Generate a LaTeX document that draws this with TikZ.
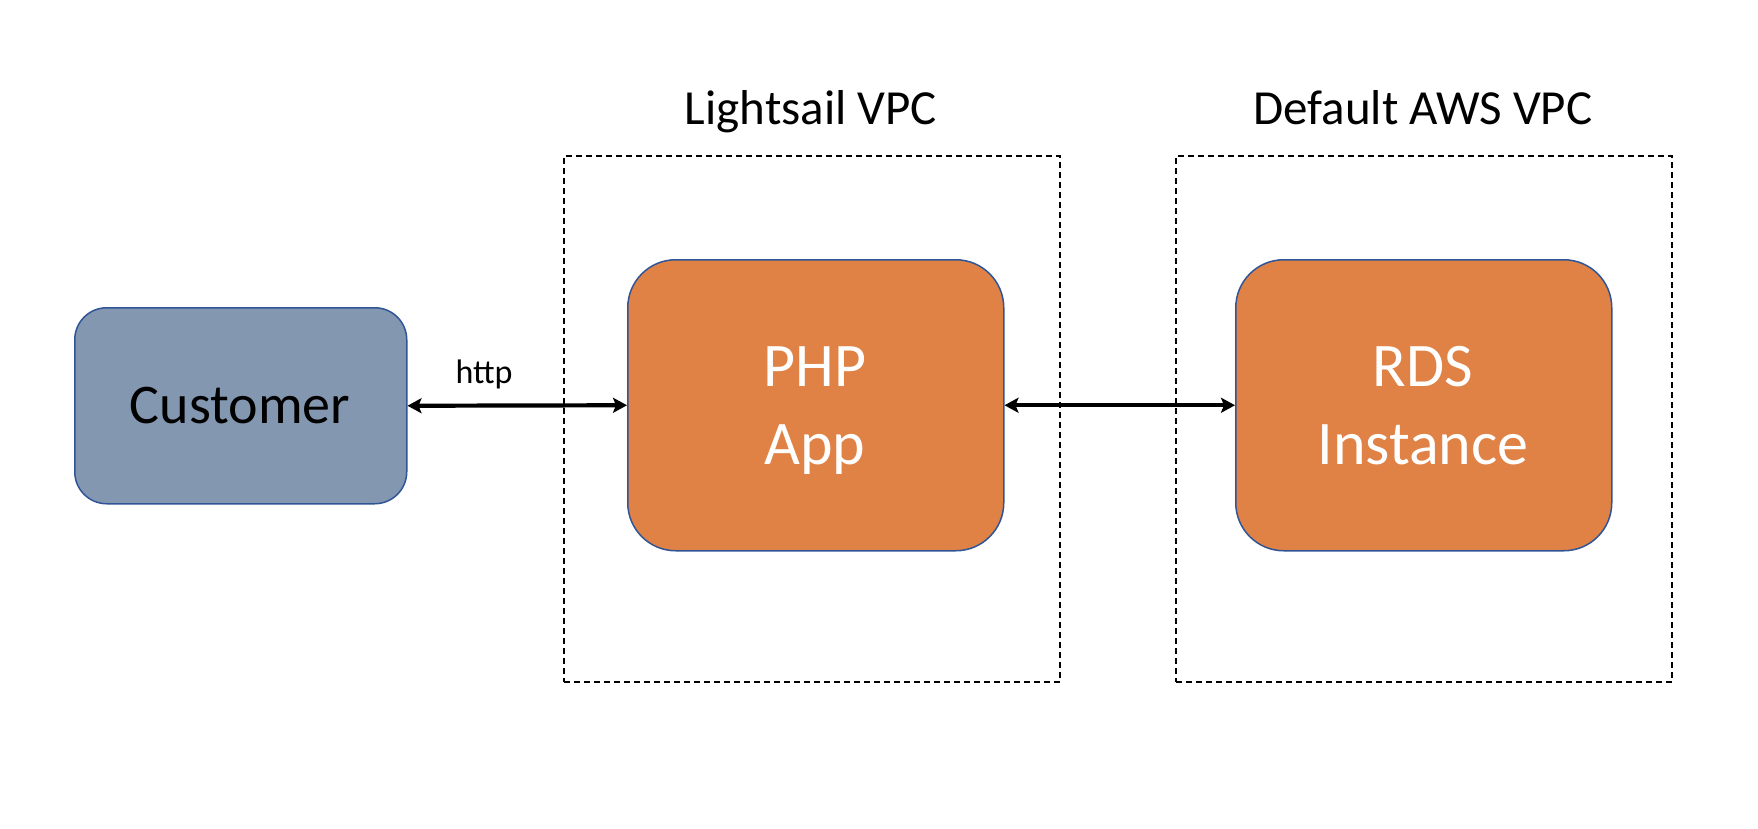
\documentclass[tikz,border=0pt]{standalone}
\usepackage{fontspec}
\setmainfont{Carlito}
\usetikzlibrary{arrows.meta}
\definecolor{custfill}{HTML}{8497B0}
\definecolor{appfill}{HTML}{E08245}
\definecolor{boxedge}{HTML}{2F5597}
\begin{document}
\begin{tikzpicture}[x=1pt,y=-1pt,
  vpc/.style={draw=black, line width=2pt, dash pattern=on 6pt off 4pt, inner sep=0pt, anchor=north west, minimum width=496pt, minimum height=526pt},
  custbox/.style={draw=boxedge, line width=1.5pt, fill=custfill, rounded corners=32pt, inner sep=0pt, anchor=north west, minimum width=332pt, minimum height=196pt},
  appbox/.style={draw=boxedge, line width=1.5pt, fill=appfill, rounded corners=48pt, inner sep=0pt, anchor=north west, minimum width=376pt, minimum height=291pt},
  title/.style={font=\fontsize{49}{59}\selectfont, anchor=base, inner sep=0pt},
  inbox/.style={font=\fontsize{62}{75}\selectfont, text=white, anchor=base, inner sep=0pt},
  link/.style={line width=4.2pt, {Stealth[length=14pt,width=15pt,inset=3pt]}-{Stealth[length=14pt,width=15pt,inset=3pt]}}]
\useasboundingbox (0,0) rectangle (1758,828);
\fill[white] (0,0) rectangle (1758,828);
% VPC containers
\node[vpc] (lvpc) at (563,155) {};
\node[vpc] (dvpc) at (1175,155) {};
\node[title] (ltitle) at (811,124) {Lightsail VPC};
\node[title] (dtitle) at (1423,124) {Default AWS VPC};
% boxes
\node[custbox] (cust) at (74,307) {};
\node[appbox] (php) at (627,259) {};
\node[appbox] (rds) at (1235,259) {};
% texts
\node[font=\fontsize{56}{67}\selectfont, anchor=base, inner sep=0pt] (custtext) at (240,423) {Customer};
\node[inbox] (phpa) at (815,386) {PHP};
\node[inbox] (phpb) at (815,464) {App};
\node[inbox] (rdsa) at (1423,386) {RDS};
\node[inbox] (rdsb) at (1423,464) {Instance};
% connectors
\draw[link] (cust.east) -- (php.west);
\draw[link] (php.east) -- (rds.west);
\node[font=\fontsize{34}{40}\selectfont, anchor=base, inner sep=0pt] (http) at (484,383) {http};
\end{tikzpicture}
\end{document}
